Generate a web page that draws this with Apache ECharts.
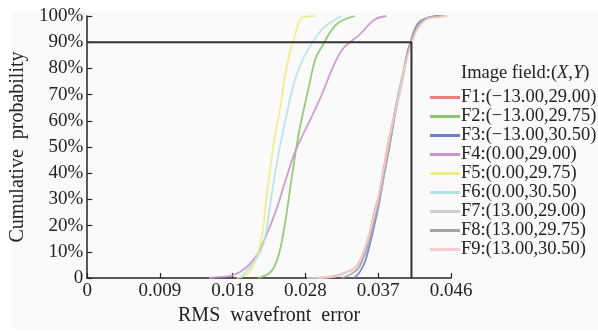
<!DOCTYPE html>
<html>
<head>
<meta charset="utf-8">
<script src="https://cdn.jsdelivr.net/npm/echarts@6/dist/echarts.min.js"></script>
<style>html,body{margin:0;padding:0;background:#fff}#c{width:598px;height:331px}</style>
</head>
<body>
<div id="c"></div>
<script>
// ---- data ----
const seriesNames = ['F1:(\u221213.00,29.00)','F2:(\u221213.00,29.75)','F3:(\u221213.00,30.50)','F4:(0.00,29.00)','F5:(0.00,29.75)','F6:(0.00,30.50)','F7:(13.00,29.00)','F8:(13.00,29.75)','F9:(13.00,30.50)'];
const xTickLabels = ['0','0.009','0.018','0.028','0.037','0.046'];
const yTickLabels = ['0','10%','20%','30%','40%','50%','60%','70%','80%','90%','100%'];
const thresholdX = 0.041;
const thresholdY = 90;

const F1 = [[0.0285,0],[0.0310,0.4],[0.0326,2],[0.0338,3.7],[0.0344,6],[0.0351,11],[0.0357,17],[0.0363,25],[0.0369,32],[0.0375,42],[0.0382,53.6],[0.0388,62],[0.0397,74],[0.0404,85],[0.0409,90],[0.0415,95],[0.0425,98.6],[0.0440,99.7],[0.0452,100]];
const F2 = [[0.0216,0],[0.0231,2],[0.0239,6],[0.0245,12.4],[0.0251,22.5],[0.0257,35],[0.0263,47],[0.0268,56],[0.0275,66],[0.0281,74],[0.0289,84],[0.0300,90],[0.0307,93.7],[0.0318,97.5],[0.0338,100]];
const F3 = [[0.0337,0],[0.0344,2],[0.0351,6],[0.0357,12.4],[0.0363,20],[0.0369,28.5],[0.0375,38.6],[0.0384,53.6],[0.0390,65],[0.0399,77],[0.0405,86],[0.0409,90],[0.0415,95.6],[0.0421,98],[0.0434,99.7],[0.0446,100]];
const F4 = [[0.0154,0],[0.0169,0.4],[0.0185,1.1],[0.0201,4],[0.0214,8.6],[0.0226,16],[0.0239,26],[0.0251,37.5],[0.0264,49],[0.0283,61],[0.0298,71],[0.0310,80],[0.0322,87],[0.0332,90],[0.0343,92.5],[0.0351,95],[0.0363,98.6],[0.0378,100]];
const F5 = [[0.0189,0],[0.0204,2],[0.0216,9.7],[0.0222,18],[0.0226,29],[0.0231,41],[0.0237,53.6],[0.0244,65],[0.0250,77],[0.0256,86],[0.0260,90],[0.0266,96],[0.0272,99.4],[0.0288,100]];
const F6 = [[0.0194,0],[0.0214,7.5],[0.0223,13],[0.0229,23],[0.0235,35],[0.0241,46],[0.0247,55],[0.0254,65],[0.0262,75],[0.0272,83],[0.0285,90],[0.0297,95],[0.0310,98],[0.0322,100]];
const F7 = [[0.0278,0],[0.0310,0.75],[0.0328,2.25],[0.0341,4.1],[0.0347,7.1],[0.0353,12.4],[0.0359,18.7],[0.0366,26.2],[0.0372,34.1],[0.0378,44.2],[0.0384,53.6],[0.0390,63],[0.0398,74.2],[0.0404,83.6],[0.0410,90.4],[0.0416,95.3],[0.0426,98.6],[0.0441,99.7],[0.0454,100]];
const F8 = [[0.0322,0],[0.0334,1.5],[0.0343,3.7],[0.0349,7.5],[0.0356,13.1],[0.0362,20.2],[0.0368,28.5],[0.0374,37.9],[0.0382,49.9],[0.0388,60.4],[0.0395,72.4],[0.0403,82.9],[0.0409,90],[0.0415,94.9],[0.0424,98.3],[0.0436,99.7],[0.0449,100]];
const F9 = [[0.0291,0],[0.0316,0.75],[0.0332,2.6],[0.0342,4.9],[0.0348,9],[0.0354,14.6],[0.0361,21.7],[0.0367,29.2],[0.0373,38.2],[0.0379,48],[0.0385,57.4],[0.0393,68.6],[0.0400,79.1],[0.0407,86.6],[0.0413,91.9],[0.0420,96],[0.0431,99],[0.0446,99.6],[0.0456,100]];

const seriesData = [F1,F2,F3,F4,F5,F6,F7,F8,F9];
const colors = ['#ef7f7f','#8cc56a','#6f7fd0','#c993c9','#f2eb85','#b5e2e4','#cfcfcf','#a3a3a3','#f6cccc'];

// ---- chart ----
const chart = echarts.init(document.getElementById('c'), null, {renderer:'canvas'});
const FONT = '"Liberation Serif","Times New Roman",serif';
const series = seriesData.map((d,i)=>({
  name: seriesNames[i], type:'line', data:d, smooth:0.4, showSymbol:false, symbol:'none',
  lineStyle:{color:colors[i], width:1.8, opacity:0.9}, itemStyle:{color:colors[i]}, z:2
}));
series.push({
  name:'threshold', type:'line', data:[[0,thresholdY],[thresholdX,thresholdY],[thresholdX,0]],
  showSymbol:false, symbol:'none', lineStyle:{color:'#333', width:2}, z:3, silent:true
});

chart.setOption({
  backgroundColor:'#ffffff',
  animation:false,
  graphic:[
    {type:'rect', shape:{x:12,y:12,width:586,height:317}, style:{fill:'#fafafa'}, z:-10, silent:true},
    {type:'text', left:461, top:64, style:{
      text:'Image field:({i|X},{i|Y})', fill:'#222', font:'18.5px '+FONT,
      rich:{i:{fontStyle:'italic', fontSize:18.5, fontFamily:FONT, fill:'#222'}}
    }}
  ],
  grid:{left:81, right:147, top:16, bottom:48, containLabel:false},
  legend:{
    data:seriesNames, orient:'vertical', left:425, top:83, icon:'rect',
    itemWidth:30, itemHeight:3, itemGap:0,
    textStyle:{fontFamily:FONT, fontSize:18.5, color:'#222', lineHeight:18.6, padding:[0,0,0,-4]}
  },
  xAxis:{
    type:'value', min:0, max:0.046, interval:0.0092,
    name:'RMS  wavefront  error', nameLocation:'middle', nameGap:28,
    nameTextStyle:{fontFamily:FONT, fontSize:20, color:'#222'},
    axisLine:{lineStyle:{color:'#222', width:1.5}},
    axisTick:{inside:true, length:5, lineStyle:{color:'#222', width:1.2}},
    axisLabel:{fontFamily:FONT, fontSize:19, color:'#222', margin:4,
      formatter:(v)=>xTickLabels[Math.round(v/0.0092)]},
    splitLine:{show:false}
  },
  yAxis:{
    type:'value', min:0, max:100, interval:10,
    name:'Cumulative  probability', nameLocation:'middle', nameGap:50,
    nameTextStyle:{fontFamily:FONT, fontSize:20, color:'#222'},
    axisLine:{show:true, lineStyle:{color:'#222', width:1.5}},
    axisTick:{show:true, inside:true, length:5, lineStyle:{color:'#222', width:1.2}},
    axisLabel:{fontFamily:FONT, fontSize:19, color:'#222', margin:4,
      formatter:(v)=>yTickLabels[Math.round(v/10)]},
    splitLine:{show:false}
  },
  series:series
});
</script>
</body>
</html>
